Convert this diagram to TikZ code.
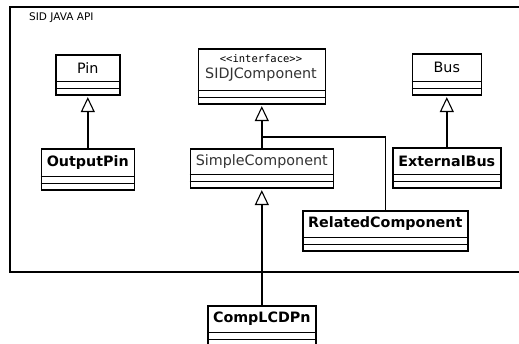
\documentclass[tikz,border=0pt]{standalone}
\usepackage{fontspec}
\setmainfont{DejaVu Sans}
\newfontfamily\monofam{DejaVu Sans Mono}
\usetikzlibrary{arrows.meta,calc}
\tikzset{
  clsbox/.style={draw, line width=1.6pt, inner sep=0pt, fill=white},
  divider/.style={line width=1.4pt},
  nametext/.style={inner sep=0pt, font=\fontsize{14.3}{16}\selectfont},
  boldname/.style={nametext, font=\fontsize{14.3}{16}\selectfont\bfseries},
  lightname/.style={nametext, text=black!80},
  frameline/.style={line width=1.3pt},
  conn/.style={line width=1.6pt},
  inherit/.style={conn, shorten >=1.5pt, -{Triangle[length=15pt,width=14pt,fill=white,line width=1.1pt]}}
}
% #1 node name, #2 left x, #3 top y, #4 width, #5 height
\newcommand\umlclassbox[5]{%
  \node[clsbox, minimum width=#4pt, minimum height=#5pt, anchor=north west] (#1) at (#2,#3) {};
  \draw[divider] ([yshift=14pt]#1.south west) -- ([yshift=14pt]#1.south east);
  \draw[divider] ([yshift=7pt]#1.south west) -- ([yshift=7pt]#1.south east);
  \coordinate (#1-nc) at ($(#1.north)!0.5!([yshift=14pt]#1.south)$);
}
\begin{document}
\begin{tikzpicture}[x=1pt,y=-1pt]
  \useasboundingbox (0,0) rectangle (519,344);
  \clip (0,0) rectangle (519,344);
  \fill[white] (0,0) rectangle (519,344);
  % package frame
  \draw[frameline] (10,7) rectangle (545,272);
  \node[anchor=west, inner sep=0pt, font=\fontsize{10.5}{12}\selectfont] (pkg) at (29,18) {SID JAVA API};

  % classes
  \umlclassbox{pin}{55}{54}{64}{40}
  \node[nametext] (pinname) at (pin-nc) {Pin};

  \umlclassbox{outpin}{40.5}{148}{93}{41}
  \node[boldname] (outpinname) at (outpin-nc) {OutputPin};

  \umlclassbox{sidj}{197.5}{48}{127}{55}
  \node[inner sep=0pt, font=\monofam\fontsize{10.5}{11}\selectfont] (stereo) at (261,59) {<<interface>>};
  \node[lightname] (sidjname) at (261,75) {SIDJComponent};

  \umlclassbox{simple}{189.5}{148}{143}{39}
  \node[lightname] (simplename) at (simple-nc) {SimpleComponent};

  \umlclassbox{bus}{411.5}{53}{69}{41}
  \node[nametext] (busname) at (bus-nc) {Bus};

  \umlclassbox{extbus}{392}{147}{108}{40}
  \node[boldname] (extbusname) at (extbus-nc) {ExternalBus};

  \umlclassbox{related}{302}{210}{165}{40}
  \node[boldname] (relatedname) at (related-nc) {RelatedComponent};

  \umlclassbox{comp}{207}{305}{108}{40}
  \node[boldname] (compname) at (comp-nc) {CompLCDPn};

  % generalisations
  \draw[inherit] (outpin.north) -- (pin.south);
  \draw[inherit] (extbus.north) -- (bus.south);
  \draw[inherit] (simple.north) -- (sidj.south);
  \coordinate (jy) at (0,137);
  \coordinate (j) at (sidj.south |- jy);
  \draw[conn] (related.north) |- (j);
  \draw[inherit] (comp.north) -- (simple.south);
\end{tikzpicture}
\end{document}
